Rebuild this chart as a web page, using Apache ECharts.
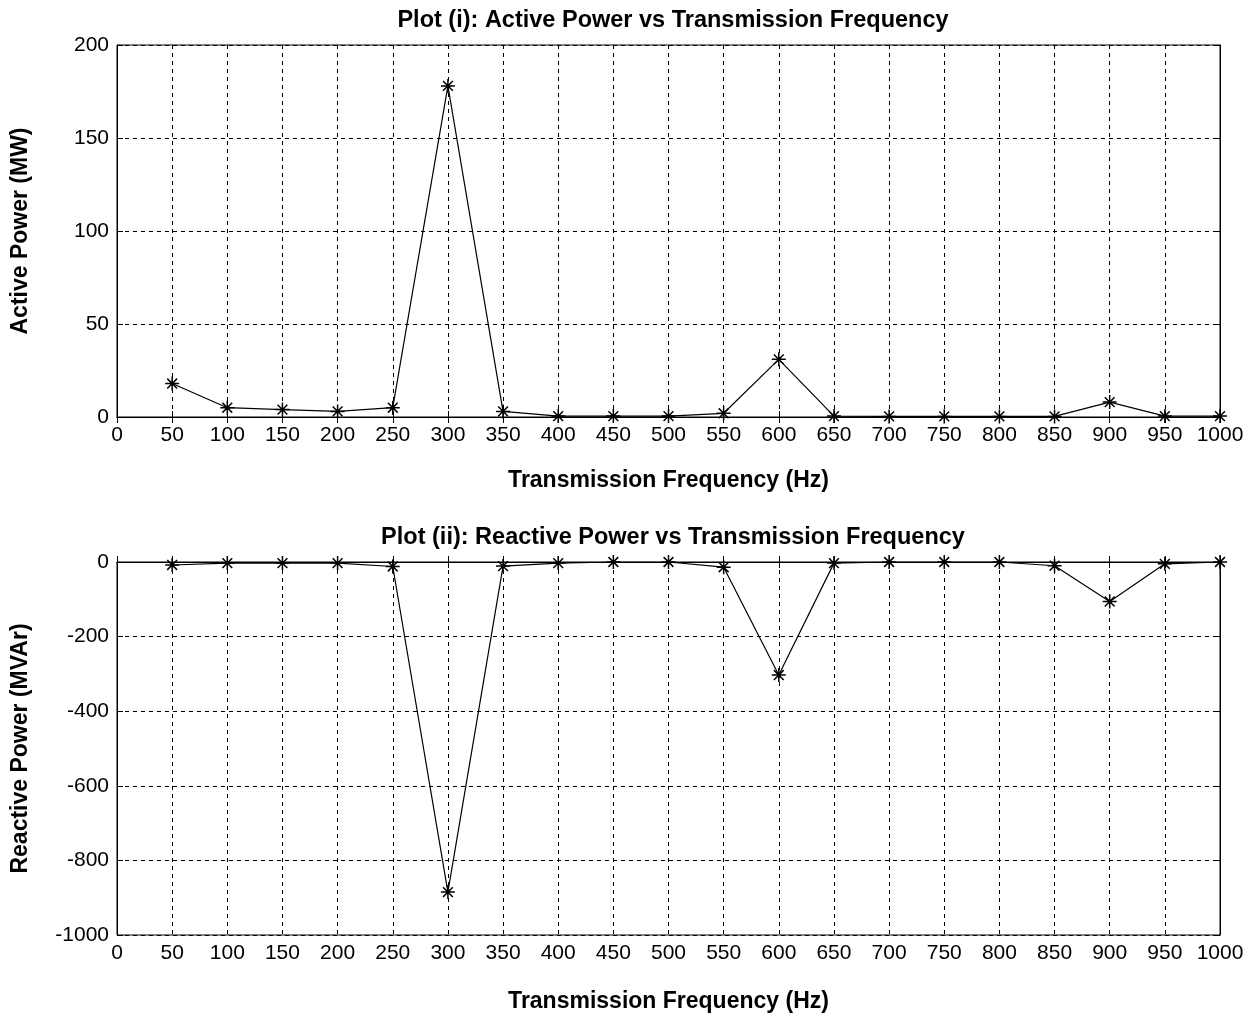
<!DOCTYPE html>
<html>
<head>
<meta charset="utf-8">
<script src="https://cdn.jsdelivr.net/npm/echarts@6/dist/echarts.min.js"></script>
<style>html,body{margin:0;padding:0;background:#fff;}#c{width:1256px;height:1017px;}</style>
</head>
<body>
<div id="c"></div>
<script>
const freqs = [50,100,150,200,250,300,350,400,450,500,550,600,650,700,750,800,850,900,950,1000];
const activePower = [18,5,4,3,5,178,3,0.5,0.5,0.5,2,31,0.5,0.3,0.3,0.3,0.3,8,0.5,0.5];
const reactivePower = [-8,-3,-3,-3,-12,-885,-11,-3,0,0,-14,-303,-3,0,0,0,-10,-106,-5,0];
const titles = ['Plot (i): Active Power vs Transmission Frequency','Plot (ii): Reactive Power vs Transmission Frequency'];
const xName = 'Transmission Frequency (Hz)';
const yNames = ['Active Power (MW)','Reactive Power (MVAr)'];

const font = 'Liberation Sans, Arial, sans-serif';
const star = 'path://M0,-10L0,10M-10,0L10,0M-7,-7L7,7M-7,7L7,-7';
const chart = echarts.init(document.getElementById('c'));
const plain = v => String(v);

function xAxis(grid, pos){
  return {
    type:'value', gridIndex:grid, min:0, max:1000, interval:50, position:pos,
    axisLine:{show:true, lineStyle:{color:'#000', width:1}},
    axisTick:{show:true, inside:true, length:6, lineStyle:{color:'#000'}},
    axisLabel:{show:pos==='bottom', color:'#000', fontSize:21, fontFamily:font, margin:8, formatter:plain},
    splitLine:{show:pos==='bottom', lineStyle:{color:'#000', type:[4,4], width:1}},
    name: pos==='bottom'?xName:'', nameLocation:'middle', nameGap:grid===0?52:55,
    nameTextStyle:{color:'#000', fontSize:23, fontWeight:'bold', fontFamily:font}
  };
}
function yAxis(grid, pos, min, max, interval, name){
  return {
    type:'value', gridIndex:grid, min:min, max:max, interval:interval, position:pos,
    axisLine:{show:true, onZero:false, lineStyle:{color:'#000', width:1}},
    axisTick:{show:true, inside:true, length:6, lineStyle:{color:'#000'}},
    axisLabel:{show:pos==='left', color:'#000', fontSize:21, fontFamily:font, margin:8, formatter:plain},
    splitLine:{show:pos==='left', lineStyle:{color:'#000', type:[4,4], width:1}},
    name: pos==='left'?name:'', nameLocation:'middle', nameGap:pos==='left'?85:0,
    nameTextStyle:{color:'#000', fontSize:23, fontWeight:'bold', fontFamily:font}
  };
}

chart.setOption({
  animation:false,
  backgroundColor:'#fff',
  title:[
    {text:titles[0], left:668, top:4, textAlign:'center', textStyle:{color:'#000', fontSize:23.5, fontWeight:'bold', fontFamily:font}},
    {text:titles[1], left:668, top:521, textAlign:'center', textStyle:{color:'#000', fontSize:23.5, fontWeight:'bold', fontFamily:font}}
  ],
  grid:[
    {left:117, right:36, top:45, height:372, show:true, borderColor:'#000', borderWidth:1},
    {left:117, right:36, top:562, height:373, show:true, borderColor:'#000', borderWidth:1}
  ],
  xAxis:[xAxis(0,'bottom'), xAxis(0,'top'), xAxis(1,'bottom'), xAxis(1,'top')],
  yAxis:[yAxis(0,'left',0,200,50,yNames[0]), yAxis(0,'right',0,200,50,''),
         yAxis(1,'left',-1000,0,200,yNames[1]), yAxis(1,'right',-1000,0,200,'')],
  series:[
    {type:'line', xAxisIndex:0, yAxisIndex:0, data:freqs.map((f,i)=>[f,activePower[i]]),
     symbol:star, symbolSize:14, lineStyle:{color:'#000', width:1.2},
     itemStyle:{color:'#000', borderColor:'#000', borderWidth:1.5}},
    {type:'line', xAxisIndex:2, yAxisIndex:2, data:freqs.map((f,i)=>[f,reactivePower[i]]),
     symbol:star, symbolSize:14, lineStyle:{color:'#000', width:1.2},
     itemStyle:{color:'#000', borderColor:'#000', borderWidth:1.5}}
  ]
});
</script>
</body>
</html>
